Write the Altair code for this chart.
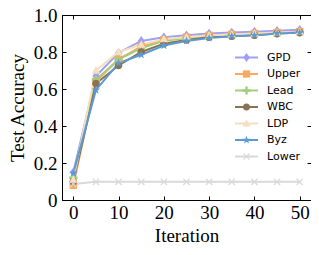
import altair as alt
import pandas as pd

iterations = [0, 5, 10, 15, 20, 25, 30, 35, 40, 45, 50]
series_names = ["GPD", "Upper", "Lead", "WBC", "LDP", "Byz", "Lower"]
gpd = [0.150, 0.670, 0.795, 0.860, 0.880, 0.890, 0.900, 0.905, 0.910, 0.915, 0.920]
upper = [0.080, 0.640, 0.760, 0.830, 0.865, 0.880, 0.890, 0.895, 0.900, 0.905, 0.910]
lead = [0.120, 0.650, 0.760, 0.820, 0.860, 0.875, 0.885, 0.890, 0.895, 0.900, 0.905]
wbc = [0.100, 0.630, 0.727, 0.800, 0.845, 0.865, 0.880, 0.885, 0.890, 0.900, 0.905]
ldp = [0.110, 0.700, 0.800, 0.840, 0.870, 0.880, 0.890, 0.895, 0.900, 0.905, 0.910]
byz = [0.145, 0.595, 0.740, 0.785, 0.835, 0.860, 0.875, 0.885, 0.890, 0.900, 0.905]
lower = [0.086, 0.098, 0.098, 0.098, 0.098, 0.098, 0.098, 0.098, 0.098, 0.098, 0.098]
colors = ["#9f9ff5", "#f9a85d", "#a2cf7c", "#8b7153", "#f5dfbc", "#5b9bd5", "#d9d9d9"]

x_min, x_max = -2.5, 52.5
x_ticks = [0, 10, 20, 30, 40, 50]
y_ticks = [0, 0.2, 0.4, 0.6, 0.8, 1.0]

all_values = [gpd, upper, lead, wbc, ldp, byz, lower]
rows = []
for name, vals in zip(series_names, all_values):
    for it, v in zip(iterations, vals):
        rows.append({"iteration": it, "acc": v, "series": name})
df = pd.DataFrame(rows)
legend_df = pd.DataFrame({"series": series_names})

diamond = "M0,-1.15L0.85,0L0,1.15L-0.85,0Z"
square = "M-0.9,-0.9H0.9V0.9H-0.9Z"
plus = "M-1,-0.3H-0.3V-1H0.3V-0.3H1V0.3H0.3V1H-0.3V0.3H-1Z"
circle = "M0.9,0A0.9,0.9,0,1,1,-0.9,0A0.9,0.9,0,1,1,0.9,0Z"
tri = "M0,-1.05L1,0.75L-1,0.75Z"
star = ("M0,-1.1L0.247,-0.34L1.046,-0.34L0.4,0.13L0.647,0.89L0,0.42"
        "L-0.647,0.89L-0.4,0.13L-1.046,-0.34L-0.247,-0.34Z")
xmark = ("M-0.85,-0.65L-0.65,-0.85L0,-0.2L0.65,-0.85L0.85,-0.65L0.2,0"
         "L0.85,0.65L0.65,0.85L0,0.2L-0.65,0.85L-0.85,0.65L-0.2,0Z")
marker_paths = [diamond, square, plus, circle, tri, star, xmark]

W, H = 249, 185
TICK = 4
serif = "Liberation Serif"

xs = alt.Scale(domain=[x_min, x_max], nice=False, zero=False)
ys = alt.Scale(domain=[0, 1], nice=False)
cs = alt.Scale(domain=series_names, range=colors)
# legend rows (pixel layout of the in-plot legend)
ls = alt.Scale(type="point", domain=series_names, range=[42.5, 141.5], padding=0)

y_lbl = "datum.value == 0 ? '0' : format(datum.value, '.1f')"
x_lbl = "datum.value < 0 || datum.value > 51 ? '' : datum.label"

# grid lines act as inward ticks (short dash at both ends)
x_grid_dash = {"condition": {"test": "datum.value < 0 || datum.value > 51", "value": []},
               "value": [TICK, H - 2 * TICK, TICK, 0]}
y_grid_dash = {"condition": {"test": "datum.value == 0 || datum.value == 1", "value": []},
               "value": [TICK, W - 2 * TICK, TICK, 0]}

main_x = alt.X("iteration:Q", scale=xs, axis=alt.Axis(
    values=[x_min] + x_ticks + [x_max], orient="bottom", ticks=False, tickSize=0,
    domain=True, domainColor="black", domainWidth=1, domainOpacity=1,
    grid=True, gridColor="black", gridOpacity=1, gridWidth=1,
    gridDash=x_grid_dash, labelExpr=x_lbl,
    labelFont=serif, labelFontSize=19, labelColor="black", labelPadding=3,
    title="Iteration", titleFont=serif, titleFontSize=19, titleFontWeight="normal",
    titleColor="black", titlePadding=4))
main_y = alt.Y("acc:Q", scale=ys, axis=alt.Axis(
    values=y_ticks, orient="left", ticks=False, tickSize=0,
    domain=True, domainColor="black", domainWidth=1, domainOpacity=1,
    grid=True, gridColor="black", gridOpacity=1, gridWidth=1, gridDash=y_grid_dash,
    labelExpr=y_lbl, labelFont=serif, labelFontSize=19, labelColor="black",
    labelPadding=5, title="Test Accuracy", titleFont=serif, titleFontSize=19,
    titleFontWeight="normal", titleColor="black", titlePadding=6))

base = alt.Chart(df)

lines = base.mark_line(strokeWidth=2).encode(
    x=main_x, y=main_y,
    color=alt.Color("series:N", scale=cs, legend=None),
    order=alt.Order("iteration:Q"))

# top and right frame edges as plain axis domains
frame_axes = base.mark_point(opacity=0).encode(
    x=alt.X("iteration:Q", scale=xs, axis=alt.Axis(
        orient="top", labels=False, ticks=False, grid=False, title=None,
        domain=True, domainColor="black", domainWidth=1, domainOpacity=1)),
    y=alt.Y("acc:Q", scale=ys, axis=alt.Axis(
        orient="right", labels=False, ticks=False, grid=False, title=None,
        domain=True, domainColor="black", domainWidth=1, domainOpacity=1)))

point_layers = []
for name, path in zip(series_names, marker_paths):
    point_layers.append(
        base.transform_filter(alt.datum.series == name)
        .mark_point(filled=True, size=70, opacity=1, shape=path)
        .encode(
            x=alt.X("iteration:Q", scale=xs, axis=None),
            y=alt.Y("acc:Q", scale=ys, axis=None),
            color=alt.Color("series:N", scale=cs, legend=None)))

# in-plot legend
lbase = alt.Chart(legend_df)
leg_rule = lbase.mark_rule(strokeWidth=2).encode(
    x=alt.value(173), x2=alt.value(196),
    y=alt.Y("series:N", scale=ls, axis=None),
    color=alt.Color("series:N", scale=cs, legend=None))
leg_points = []
for name, path in zip(series_names, marker_paths):
    leg_points.append(
        lbase.transform_filter(alt.datum.series == name)
        .mark_point(filled=True, size=64, opacity=1, shape=path)
        .encode(x=alt.value(184.5),
                y=alt.Y("series:N", scale=ls, axis=None),
                color=alt.Color("series:N", scale=cs, legend=None)))
leg_text = lbase.mark_text(align="left", baseline="middle", font="DejaVu Sans",
                           fontSize=11, color="black").encode(
    x=alt.value(205),
    y=alt.Y("series:N", scale=ls, axis=None),
    text="series:N")

chart = alt.layer(lines, frame_axes, *point_layers, leg_rule, *leg_points,
                  leg_text).resolve_axis(
    x="independent", y="independent"
).resolve_scale(y="independent").properties(
    width=W, height=H,
    background="white",
    autosize=alt.AutoSizeParams(type="none"),
    padding={"left": 54, "top": 7, "right": 0, "bottom": 45},
).configure_view(strokeWidth=0)

chart.save("out.html", embed_options={"renderer": "svg", "actions": False})
